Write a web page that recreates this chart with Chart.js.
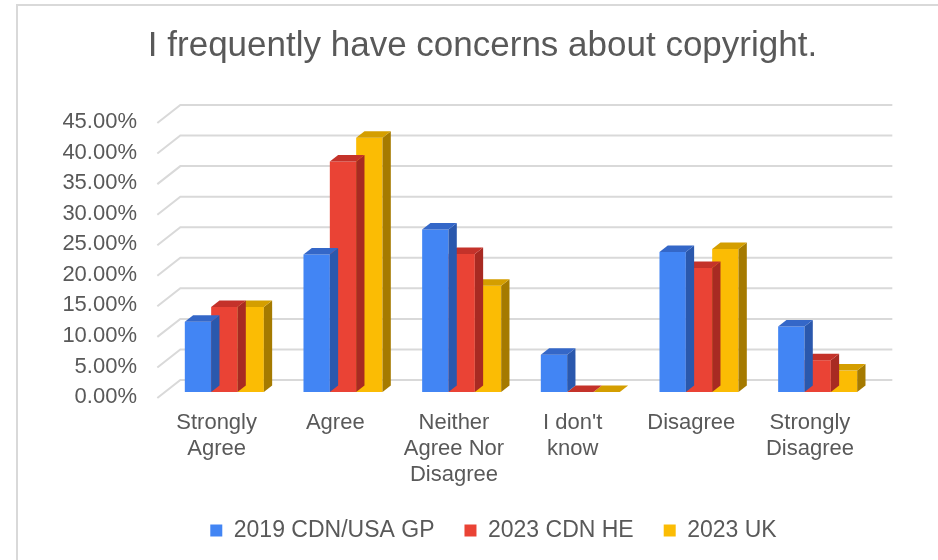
<!DOCTYPE html>
<html>
<head>
<meta charset="utf-8">
<script src="https://cdn.jsdelivr.net/npm/chart.js@4.4.0/dist/chart.umd.min.js"></script>
<style>
  html, body { margin: 0; padding: 0; background: #fff; }
</style>
</head>
<body>
<canvas id="chart" width="938" height="560"></canvas>
<script>
// Data (percent)
const categories = [['Strongly', 'Agree'], 'Agree', ['Neither', 'Agree Nor', 'Disagree'], ["I don't", 'know'], 'Disagree', ['Strongly', 'Disagree']];
const seriesNames = ['2019 CDN/USA GP', '2023 CDN HE', '2023 UK'];
const gp2019 = [11.5, 22.5, 26.6, 6.1, 22.9, 10.7];
const he2023 = [13.9, 37.7, 22.6, 0, 20.3, 5.2];
const uk2023 = [13.9, 41.6, 17.4, 0, 23.4, 3.5];
const yMax = 45;
const yStep = 5;

// colours: front, top, side
const frontColors = ['#4285F4', '#EA4335', '#FBBC04'];
const topColors = ['#3467c8', '#c4322a', '#d49e00'];
const sideColors = ['#2a58ad', '#a82a22', '#a57a00'];

const FONT = '"Liberation Sans", Arial, sans-serif';
const GREY = '#595959';

// depth of the floor and of the bars (oblique 3D look)
const DEPTH_X = 23, DEPTH_Y = 18;
const FRONT_SHARE = 1 / 3;
const BAR_DX = 8.3, BAR_DY = 6.5;

// title and legend sit a bit right of the plot centre in the original
const TITLE_SHIFT = 44;
const LEGEND_SHIFT = 55;

const threeD = {
  id: 'threeD',
  afterLayout(chart) {
    if (chart.titleBlock) {
      chart.titleBlock.left += TITLE_SHIFT;
      chart.titleBlock.right += TITLE_SHIFT;
    }
    if (chart.legend) {
      chart.legend.left += LEGEND_SHIFT;
      chart.legend.right += LEGEND_SHIFT;
    }
  },
  beforeDraw(chart) {
    const ctx = chart.ctx;
    ctx.save();
    ctx.strokeStyle = '#d9d9d9';
    ctx.lineWidth = 2;
    ctx.beginPath();
    ctx.moveTo(17, 560);
    ctx.lineTo(17, 5);
    ctx.lineTo(938, 5);
    ctx.stroke();
    ctx.restore();
  },
  beforeDatasetsDraw(chart) {
    const { ctx, chartArea, scales: { y } } = chart;
    const fx = FRONT_SHARE * DEPTH_X, fy = FRONT_SHARE * DEPTH_Y;
    const bx = DEPTH_X - fx, by = DEPTH_Y - fy;
    ctx.save();
    ctx.strokeStyle = '#d9d9d9';
    ctx.lineWidth = 2;
    y.ticks.forEach(t => {
      const py = y.getPixelForValue(t.value);
      ctx.beginPath();
      ctx.moveTo(chartArea.left - fx, py + fy);
      ctx.lineTo(chartArea.left + bx, py - by);
      ctx.lineTo(chartArea.right + bx, py - by);
      ctx.stroke();
    });
    ctx.restore();
  },
  afterDatasetDraw(chart, args) {
    const ctx = chart.ctx;
    const i = args.index;
    ctx.save();
    args.meta.data.forEach(bar => {
      const { x, y, base, width } = bar.getProps(['x', 'y', 'base', 'width'], true);
      const l = x - width / 2, r = x + width / 2;
      // side face
      ctx.fillStyle = sideColors[i];
      ctx.beginPath();
      ctx.moveTo(r, y);
      ctx.lineTo(r + BAR_DX, y - BAR_DY);
      ctx.lineTo(r + BAR_DX, base - BAR_DY);
      ctx.lineTo(r, base);
      ctx.closePath();
      ctx.fill();
      // top face
      ctx.fillStyle = topColors[i];
      ctx.beginPath();
      ctx.moveTo(l, y);
      ctx.lineTo(l + BAR_DX, y - BAR_DY);
      ctx.lineTo(r + BAR_DX, y - BAR_DY);
      ctx.lineTo(r, y);
      ctx.closePath();
      ctx.fill();
    });
    ctx.restore();
  }
};

new Chart(document.getElementById('chart'), {
  type: 'bar',
  data: {
    labels: categories,
    datasets: [
      { label: seriesNames[0], data: gp2019, backgroundColor: frontColors[0] },
      { label: seriesNames[1], data: he2023, backgroundColor: frontColors[1] },
      { label: seriesNames[2], data: uk2023, backgroundColor: frontColors[2] }
    ]
  },
  options: {
    responsive: false,
    animation: false,
    devicePixelRatio: 1,
    layout: { padding: { left: 0, right: 61, top: 0, bottom: 8 } },
    datasets: { bar: { borderWidth: 0, barPercentage: 1, categoryPercentage: 0.666 } },
    plugins: {
      title: {
        display: true,
        text: 'I frequently have concerns about copyright.',
        color: GREY,
        font: { family: FONT, size: 35, weight: 'normal', lineHeight: 1.2 },
        padding: { top: 25, bottom: 50 }
      },
      legend: {
        position: 'bottom',
        labels: {
          color: GREY,
          font: { family: FONT, size: 23 },
          boxWidth: 12,
          boxHeight: 12,
          padding: 30
        }
      },
      tooltip: { enabled: false }
    },
    scales: {
      x: {
        grid: { display: false, drawTicks: false },
        border: { display: false },
        ticks: {
          color: GREY,
          font: { family: FONT, size: 22, lineHeight: 1.18 },
          padding: 18,
          labelOffset: -7.7,
          maxRotation: 0,
          autoSkip: false
        },
        afterFit(scale) { scale.height = 97; }
      },
      y: {
        min: 0,
        max: yMax,
        grid: { display: false, drawTicks: false },
        border: { display: false },
        ticks: {
          stepSize: yStep,
          color: GREY,
          font: { family: FONT, size: 22 },
          padding: 28,
          labelOffset: 5,
          callback: v => v.toFixed(2) + '%'
        },
        afterFit(scale) { scale.width = 165; }
      }
    }
  },
  plugins: [threeD]
});
</script>
</body>
</html>
